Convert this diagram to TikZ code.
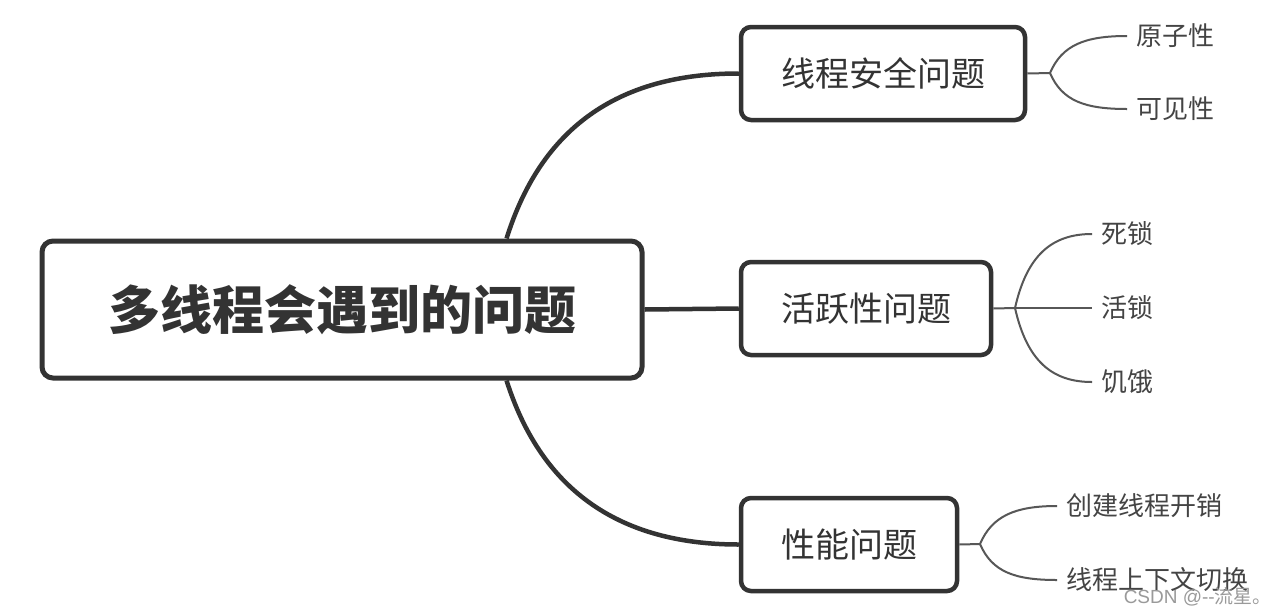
\documentclass[tikz,border=0pt]{standalone}
\usepackage{fontspec}
\setmainfont{Noto Sans CJK SC}
\newfontfamily\cjk{Noto Sans CJK SC}
\usetikzlibrary{calc}
\definecolor{ink}{HTML}{333333}
\definecolor{subink}{HTML}{444444}
\definecolor{wm}{HTML}{9A9A9A}
\begin{document}
\begin{tikzpicture}[x=1pt,y=-1pt,
  mainbox/.style={draw=ink, line width=5pt, rounded corners=11pt, fill=white,
    minimum width=600pt, minimum height=137pt, inner sep=0pt,
    font=\cjk\fontsize{52}{60}\selectfont\bfseries, text=ink},
  topicbox/.style={draw=ink, line width=4.5pt, rounded corners=10pt, fill=white,
    minimum height=93pt, inner sep=0pt,
    font=\cjk\fontsize{34}{40}\selectfont, text=ink},
  leaf/.style={anchor=west, inner xsep=9pt, inner ysep=0pt,
    font=\cjk\fontsize{26}{30}\selectfont, text=subink},
  branch/.style={draw=ink, line width=4.5pt},
  twig/.style={draw=subink!90, line width=2pt}
]
\useasboundingbox[fill=white] (0,0) rectangle (1285,614);

% central and topic nodes
\node[mainbox] (main) at (342,309.5) {多线程会遇到的问题};
\node[topicbox, minimum width=284pt] (safe) at (883,73.5) {线程安全问题};
\node[topicbox, minimum width=250pt] (live) at (866,308.5) {活跃性问题};
\node[topicbox, minimum width=216pt] (perf) at (849,544.5) {性能问题};

% branch start points on the central box
\coordinate (mtop) at ($(main.north west)!0.772!(main.north east)$);
\coordinate (mbot) at ($(main.south west)!0.772!(main.south east)$);

% main branches
\draw[branch] (mtop) .. controls ($(mtop)+(40,-128)$) and ($(safe.west)+(-100,0)$) .. (safe.west);
\draw[branch] (main.east) -- (live.west);
\draw[branch] (mbot) .. controls ($(mbot)+(40,126)$) and ($(perf.west)+(-100,0)$) .. (perf.west);

% leaves
\node[leaf] (l1) at (1127,36) {原子性};
\node[leaf] (l2) at (1127,109) {可见性};
\node[leaf] (l3) at (1092,234) {死锁};
\node[leaf] (l4) at (1092,308) {活锁};
\node[leaf] (l5) at (1092,382) {饥饿};
\node[leaf] (l6) at (1057,506) {创建线程开销};
\node[leaf] (l7) at (1057,580) {线程上下文切换};

% junctions
\coordinate (j1) at (1050,73);
\coordinate (j2) at (1015,308);
\coordinate (j3) at (980,544);

\draw[twig] (safe.east) -- (j1);
\draw[twig] (j1) .. controls (1062,45) and (1085,36) .. (l1.west);
\draw[twig] (j1) .. controls (1062,101) and (1085,109) .. (l2.west);

\draw[twig] (live.east) -- (j2);
\draw[twig] (j2) .. controls (1027,255) and (1052,234) .. (l3.west);
\draw[twig] (j2) -- (l4.west);
\draw[twig] (j2) .. controls (1027,361) and (1052,382) .. (l5.west);

\draw[twig] (perf.east) -- (j3);
\draw[twig] (j3) .. controls (992,516) and (1015,506) .. (l6.west);
\draw[twig] (j3) .. controls (992,572) and (1015,580) .. (l7.west);

% watermark
\node[anchor=east, inner sep=0pt, text=wm, font=\fontspec{Liberation Sans}\fontsize{19}{22}\selectfont] (wmk) at (1272,597) {CSDN @-{}-\cjk 流星。};
\end{tikzpicture}
\end{document}
